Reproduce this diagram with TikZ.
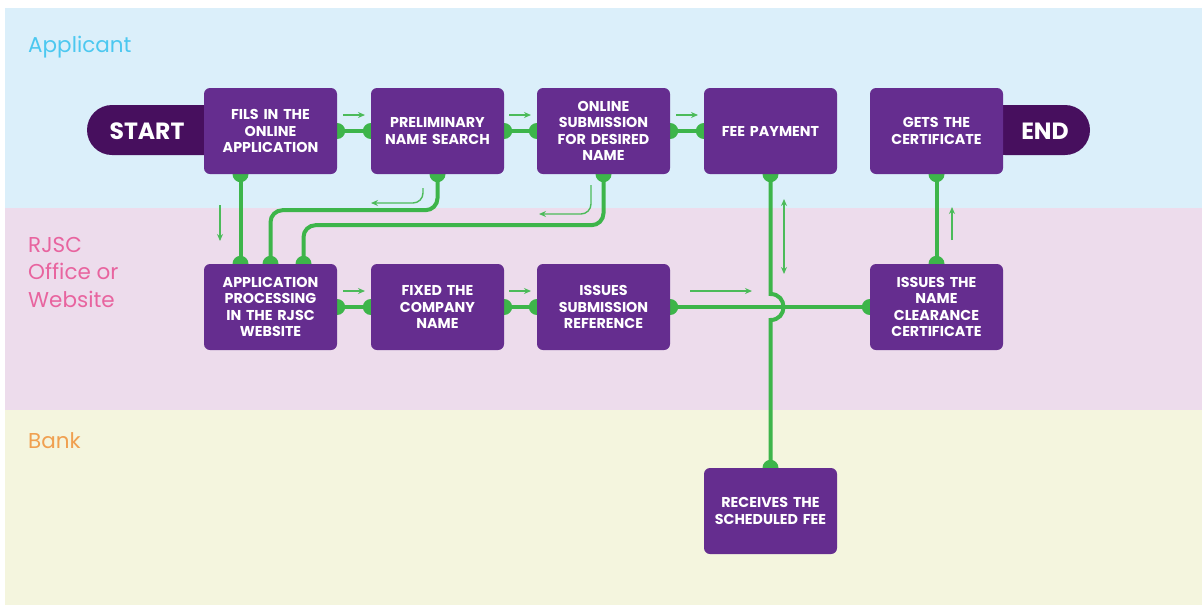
\documentclass[tikz,border=0pt]{standalone}
\usepackage{fontspec}
\setmainfont{Poppins}
\usetikzlibrary{arrows.meta}
\definecolor{laneA}{HTML}{DBEFFA}
\definecolor{laneB}{HTML}{EDDCEC}
\definecolor{laneC}{HTML}{F4F5DE}
\definecolor{txtA}{HTML}{4CC8F0}
\definecolor{txtB}{HTML}{E8649F}
\definecolor{txtC}{HTML}{F0A050}
\definecolor{boxc}{HTML}{652D8F}
\definecolor{pillc}{HTML}{470F5E}
\definecolor{grn}{HTML}{3DB54A}
\definecolor{grnl}{HTML}{4CBB5A}
\tikzset{
  stepbox/.style={fill=boxc, draw=none, rounded corners=6pt, minimum width=133pt, minimum height=86pt, text width=130pt, align=center, text=white, font=\fontsize{14.3}{16.5}\selectfont\bfseries, inner sep=0pt},
  lanelabel/.style={anchor=north west, align=left, font=\fontsize{21.5}{27.5}\selectfont, inner sep=0pt},
  conn/.style={draw=grn, line width=4pt},
  dot/.style={fill=grn},
  hint/.style={draw=grnl, line width=1.4pt, -{Stealth[length=7pt,width=6pt]}},
}
\begin{document}
\begin{tikzpicture}[x=1pt,y=-1pt]
\useasboundingbox (0,0) rectangle (1203,606);
\fill[white] (0,0) rectangle (1203,606);
% lanes
\fill[laneA] (5,8) rectangle (1202,208);
\fill[laneB] (5,208) rectangle (1202,410);
\fill[laneC] (5,410) rectangle (1202,605);
\node[lanelabel, text=txtA] (lA) at (28,36) {Applicant};
\node[lanelabel, text=txtB] (lB) at (28,237) {RJSC\\Office or\\Website};
\node[lanelabel, text=txtC] (lC) at (28,432) {Bank};
% pills
\fill[pillc, rounded corners=25pt] (87,105) rectangle (230,155);
\fill[pillc, rounded corners=25pt] (980,105) rectangle (1090,155);
\node[text=white, font=\fontsize{23.5}{27}\selectfont\bfseries] (start) at (147,131) {START};
\node[text=white, font=\fontsize{23.5}{27}\selectfont\bfseries] (end) at (1045,131) {END};
% node positions
\path (270.5,131) coordinate (cfils) (437.5,131) coordinate (cprel) (603.5,131) coordinate (conl) (770.5,131) coordinate (cfee) (936.5,131) coordinate (cgets)
      (270.5,307) coordinate (capp) (437.5,307) coordinate (cfix) (603.5,307) coordinate (ciss) (936.5,307) coordinate (cclr) (770.5,511) coordinate (crec);
\foreach \n/\c in {fils/cfils,prel/cprel,onl/conl,fee/cfee,gets/cgets,app/capp,fix/cfix,iss/ciss,clr/cclr,rec/crec}
  \node[minimum width=133pt, minimum height=86pt, inner sep=0pt] (\n) at (\c) {};
% connectors
\foreach \a/\b in {fils/prel,prel/onl,onl/fee,app/fix,fix/iss}{
  \draw[conn] (\a.east) -- (\b.west);
  \fill[dot] (\a.east) circle (8pt);
  \fill[dot] (\b.west) circle (8pt);
}
\draw[conn] ([xshift=-30pt]fils.south) -- ([xshift=-30pt]app.north);
\fill[dot] ([xshift=-30pt]fils.south) circle (8pt);
\fill[dot] ([xshift=-30pt]app.north) circle (8pt);
\draw[conn, rounded corners=12pt] (prel.south) -- ++(0,36) -| (app.north);
\fill[dot] (prel.south) circle (8pt);
\fill[dot] (app.north) circle (8pt);
\draw[conn, rounded corners=12pt] (onl.south) -- ++(0,51) -| ([xshift=33pt]app.north);
\fill[dot] (onl.south) circle (8pt);
\fill[dot] ([xshift=33pt]app.north) circle (8pt);
\draw[conn] (iss.east) -- (clr.west);
\fill[dot] (iss.east) circle (8pt);
\fill[dot] (clr.west) circle (8pt);
\draw[conn] (fee.south) -- (770.5,294) .. controls (787.8,294) and (787.8,320) .. (770.5,320) -- (rec.north);
\fill[dot] (fee.south) circle (8pt);
\fill[dot] (rec.north) circle (8pt);
\draw[conn] (clr.north) -- (gets.south);
\fill[dot] (clr.north) circle (8pt);
\fill[dot] (gets.south) circle (8pt);
% boxes
\node[stepbox] at (cfils) {FILS IN THE\\ONLINE\\APPLICATION};
\node[stepbox] at (cprel) {PRELIMINARY\\NAME SEARCH};
\node[stepbox] at (conl) {ONLINE\\SUBMISSION\\FOR DESIRED\\NAME};
\node[stepbox] at (cfee) {FEE PAYMENT};
\node[stepbox] at (cgets) {GETS THE\\CERTIFICATE};
\node[stepbox] at (capp) {APPLICATION\\PROCESSING\\IN THE RJSC\\WEBSITE};
\node[stepbox] at (cfix) {FIXED THE\\COMPANY\\NAME};
\node[stepbox] at (ciss) {ISSUES\\SUBMISSION\\REFERENCE};
\node[stepbox] at (cclr) {ISSUES THE\\NAME\\CLEARANCE\\CERTIFICATE};
\node[stepbox] at (crec) {RECEIVES THE\\SCHEDULED FEE};
% hint arrows
\path (343,115) coordinate (h1a) (365,115) coordinate (h1b)
      (509,115) coordinate (h2a) (531,115) coordinate (h2b)
      (676,115) coordinate (h3a) (698,115) coordinate (h3b)
      (343,291) coordinate (h4a) (365,291) coordinate (h4b)
      (509,291) coordinate (h5a) (531,291) coordinate (h5b)
      (690,291) coordinate (h6a) (752,291) coordinate (h6b)
      (220,205) coordinate (h7a) (220,241) coordinate (h7b)
      (952,240) coordinate (h8a) (952,207) coordinate (h8b)
      (784,199) coordinate (h9a) (784,274) coordinate (h9b)
      (423,188) coordinate (h10a) (371,203) coordinate (h10b)
      (591,185) coordinate (h11a) (539,214) coordinate (h11b);
\foreach \i in {1,...,8} \draw[hint] (h\i a) -- (h\i b);
\draw[hint, {Stealth[length=7pt,width=6pt]}-{Stealth[length=7pt,width=6pt]}] (h9a) -- (h9b);
\draw[hint, rounded corners=10pt] (h10a) |- (h10b);
\draw[hint, rounded corners=10pt] (h11a) |- (h11b);
\end{tikzpicture}
\end{document}
